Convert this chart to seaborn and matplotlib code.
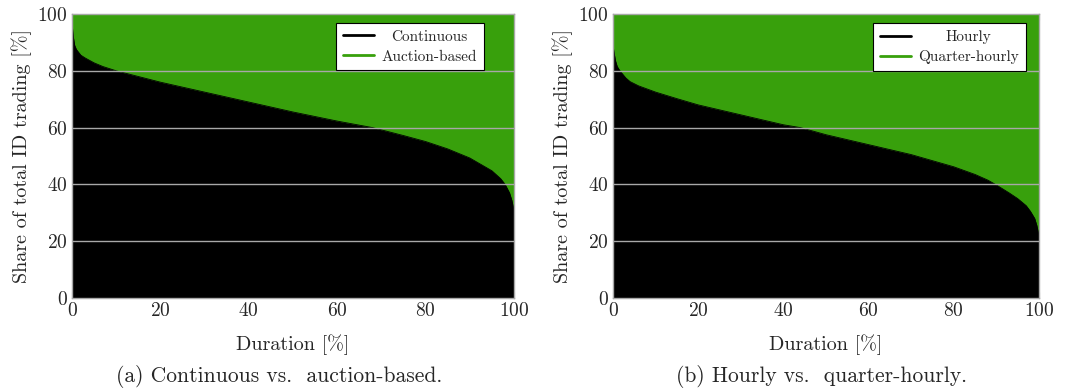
import matplotlib
matplotlib.use("Agg")
import matplotlib.pyplot as plt
import numpy as np
import pandas as pd
import seaborn as sns
from matplotlib.lines import Line2D

# duration curve (a): continuous share of ID trading [%]
dur_a = [0, 0.3, 0.6, 1, 2, 3, 5, 7, 10, 15, 20, 30, 40, 50, 60, 68, 75, 80, 85, 90, 93, 95, 97, 98, 99, 99.5, 100]
share_a = [97, 92, 89, 87.5, 85.5, 84.5, 82.8, 81.5, 80, 78, 76, 72.5, 69, 65.5, 62.3, 60, 57.2, 55.1, 52.5, 49.3, 46.6, 44.8, 42, 40, 37, 34.5, 31]

# duration curve (b): hourly share of ID trading [%]
dur_b = [0, 0.3, 0.6, 1, 1.5, 2, 3, 4, 6, 10, 15, 20, 30, 40, 44, 50, 60, 70, 80, 85, 88, 90, 93, 95, 97, 98, 99, 99.5, 100]
share_b = [89, 86, 83.5, 81.5, 80.3, 79.3, 77.5, 76.2, 74.7, 72.5, 70.2, 68, 64.5, 61, 60, 57.5, 54, 50.5, 46.2, 43.5, 41.5, 39.8, 37, 35, 32.5, 30.5, 28, 25.5, 22]

panels = [
    (dur_a, share_a, "Continuous", "Auction-based", "(a) Continuous vs.  auction-based.", 0.932, 279),
    (dur_b, share_b, "Hourly", "Quarter-hourly", "(b) Hourly vs.  quarter-hourly.", 0.969, 821),
]

GREEN = "#38a00c"
GRID = "#a8a8a8"

sns.set_theme(style="white")
plt.rcParams["font.family"] = ["cmr10", "DejaVu Serif"]
plt.rcParams["mathtext.fontset"] = "cm"
plt.rcParams["axes.formatter.use_mathtext"] = True

fig = plt.figure(figsize=(10.71, 3.9), dpi=100)
W, H = 1071, 390
boxes = [(72, 14, 514, 298), (613, 14, 1039, 298)]
legends = []

for (dur, share, lab1, lab2, caption, leg_x, cap_x), (x0, y0, x1, y1) in zip(panels, boxes):
    ax = fig.add_axes([x0 / W, 1 - y1 / H, (x1 - x0) / W, (y1 - y0) / H])
    df = pd.DataFrame({"duration": dur, "share": share})
    ax.fill_between(df["duration"], 0, 100, color=GREEN, lw=0, zorder=1)
    ax.fill_between(df["duration"], 0, df["share"], color="black", lw=0, zorder=2)
    sns.lineplot(data=df, x="duration", y="share", ax=ax, color="black", lw=0.6, zorder=3)
    for yv in [20, 40, 60, 80]:
        ax.axhline(yv, color=GRID, lw=1.0, zorder=4)
    ax.set_xlim(0, 100)
    ax.set_ylim(0, 100)
    ax.set_xticks([0, 20, 40, 60, 80, 100])
    ax.set_yticks([0, 20, 40, 60, 80, 100])
    ax.tick_params(axis="both", direction="in", length=4, width=0.8, color=GRID,
                   top=True, right=True, bottom=True, left=True, labelsize=14, pad=3)
    for sp in ax.spines.values():
        sp.set_color(GRID)
        sp.set_linewidth(1.0)
        sp.set_zorder(5)
    ax.set_xlabel("Duration [%]", fontsize=14.5, labelpad=10)
    ax.set_ylabel("Share of total ID trading [%]", fontsize=14.5, labelpad=4)
    handles = [Line2D([], [], color="black", lw=2), Line2D([], [], color=GREEN, lw=2)]
    leg = ax.legend(handles, [lab1, lab2], loc="upper right", fontsize=11,
                    frameon=True, fancybox=False, framealpha=1, edgecolor="black",
                    handlelength=2.0, handletextpad=0.5, borderpad=0.45,
                    labelspacing=0.4, borderaxespad=0,
                    bbox_to_anchor=(leg_x, 0.968))
    leg.get_frame().set_linewidth(0.8)
    leg.set_zorder(6)
    legends.append(leg)
    fig.text(cap_x / W, 1 - 377 / H, caption, ha="center", va="center", fontsize=15.5)

# centre legend labels like pgfplots does
fig.canvas.draw()
renderer = fig.canvas.get_renderer()
for leg in legends:
    texts = leg.get_texts()
    widths = [t.get_window_extent(renderer).width for t in texts]
    wmax = max(widths)
    for t, w in zip(texts, widths):
        t.set_position(((wmax - w) / 2, 0))

fig.savefig("out.png", dpi=100)
